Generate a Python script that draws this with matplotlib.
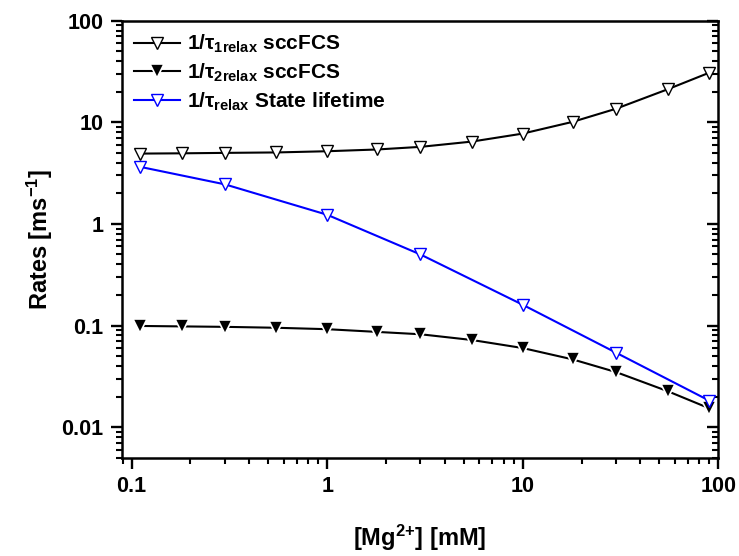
import matplotlib
matplotlib.use("Agg")
import matplotlib.pyplot as plt
from matplotlib.ticker import LogLocator, FixedLocator, FixedFormatter, NullFormatter

plt.rcParams['font.family'] = ['Liberation Sans', 'DejaVu Sans']
plt.rcParams['font.weight'] = 'bold'
plt.rcParams['mathtext.fontset'] = 'custom'
plt.rcParams['mathtext.rm'] = 'Liberation Sans:bold'
plt.rcParams['mathtext.it'] = 'Liberation Sans:bold'
plt.rcParams['mathtext.bf'] = 'Liberation Sans:bold'
plt.rcParams['mathtext.default'] = 'rm'

# Mg2+ concentrations [mM]
mg_fcs = [0.11, 0.18, 0.3, 0.55, 1, 1.8, 3, 5.5, 10, 18, 30, 55, 90]
rate1_fcs = [4.92, 4.95, 5.0, 5.05, 5.19, 5.4, 5.73, 6.46, 7.74, 10.1, 13.6, 21.1, 30.8]
rate2_fcs = [0.099, 0.098, 0.097, 0.095, 0.092, 0.0865, 0.082, 0.072, 0.060, 0.0464, 0.0348, 0.0226, 0.0153]

mg_life = [0.11, 0.3, 1, 3, 10, 30, 90]
rate_life = [3.65, 2.45, 1.23, 0.50, 0.16, 0.054, 0.0182]

labels = [r"1/τ$_{1relax}$ sccFCS", r"1/τ$_{2relax}$ sccFCS", r"1/τ$_{relax}$ State lifetime"]

xticks = [0.1, 1, 10, 100]
xticklabels = ["0.1", "1", "10", "100"]
yticks = [0.01, 0.1, 1, 10, 100]
yticklabels = ["0.01", "0.1", "1", "10", "100"]

fig = plt.figure(figsize=(7.39, 5.56), dpi=100)
ax = fig.add_axes([0.1647, 0.1768, 0.972 - 0.1647, 0.9628 - 0.1768])

ax.plot(mg_fcs, rate1_fcs, color='black', lw=1.5, marker='v', ms=9,
        mfc='white', mec='black', mew=1.0, label=labels[0])
ax.plot(mg_fcs, rate2_fcs, color='black', lw=1.5, marker='v', ms=10.5,
        mfc='black', mec='white', mew=1.2, label=labels[1])
ax.plot(mg_life, rate_life, color='#0000ff', lw=1.5, marker='v', ms=9,
        mfc='white', mec='#0000ff', mew=1.0, label=labels[2])

ax.set_xscale('log')
ax.set_yscale('log')
ax.set_xlim(0.089, 100)
ax.set_ylim(0.005, 100)

ax.xaxis.set_major_locator(FixedLocator(xticks))
ax.xaxis.set_major_formatter(FixedFormatter(xticklabels))
ax.xaxis.set_minor_locator(LogLocator(base=10, subs=range(2, 10)))
ax.xaxis.set_minor_formatter(NullFormatter())
ax.yaxis.set_major_locator(FixedLocator(yticks))
ax.yaxis.set_major_formatter(FixedFormatter(yticklabels))
ax.yaxis.set_minor_locator(LogLocator(base=10, subs=range(2, 10)))
ax.yaxis.set_minor_formatter(NullFormatter())

for s in ax.spines.values():
    s.set_linewidth(1.8)

ax.tick_params(axis='both', which='major', direction='out', length=8, width=1.7,
               labelsize=15.5, pad=5)
ax.tick_params(axis='both', which='minor', direction='out', length=4.5, width=1.5)
ax.tick_params(axis='y', which='both', right=True, labelright=False)
ax.tick_params(axis='x', which='both', top=False)
# right-side ticks point inward
for t in ax.yaxis.get_major_ticks() + ax.yaxis.get_minor_ticks():
    t.tick2line.set_marker(matplotlib.lines.TICKLEFT)
for lab in ax.get_xticklabels() + ax.get_yticklabels():
    lab.set_fontweight('bold')

ax.set_xlabel(r"[Mg$^{2{+}}$] [mM]", fontsize=17, fontweight='bold', labelpad=19)
ax.set_ylabel(r"Rates [ms$^{-1}$]", fontsize=17, fontweight='bold', labelpad=5)

leg = ax.legend(loc='upper left', frameon=False, handlelength=2.2,
                handletextpad=0.35, labelspacing=0.3, borderaxespad=0.25,
                borderpad=0.35, prop={'weight': 'bold', 'size': 15})

fig.savefig("out.png", dpi=100)
